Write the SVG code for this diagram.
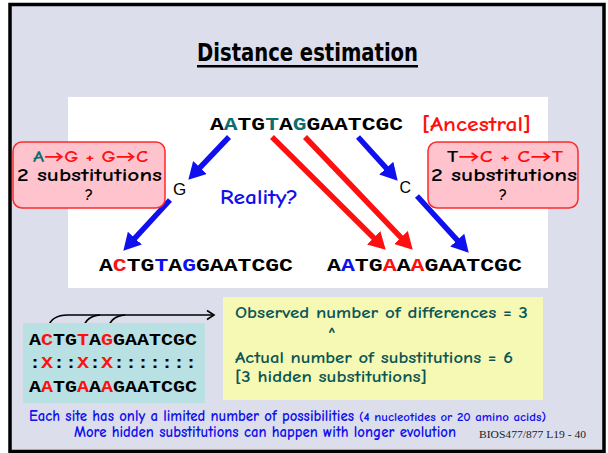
<svg xmlns="http://www.w3.org/2000/svg" width="608" height="453" viewBox="0 0 608 453">
<style>
.seq{font-family:"Liberation Mono","Courier New",monospace;font-weight:bold;fill:#000}
.comic{font-family:"Comic Sans MS","Comic Neue","Lato","Open Sans",sans-serif;font-weight:bold}
.r{fill:#ff1010}.b{fill:#1010ee}.t{fill:#0e6e6e}
.pink{fill:#ffc3cd;stroke:#ff2a2a;stroke-width:1.5}
.ya{fill:#0b5656}
.blu{fill:#1010ee}
.arB{stroke:#1010ee;stroke-width:5.5;fill:none}
.arR{stroke:#ff1010;stroke-width:5.5;fill:none}
</style>
<defs>
<marker id="hb" markerUnits="userSpaceOnUse" markerWidth="18" markerHeight="20" refX="6" refY="9.5" orient="auto" viewBox="0 0 18 20"><path d="M0,0 L17,9.5 L0,19 z" fill="#1010ee"/></marker>
<marker id="hr" markerUnits="userSpaceOnUse" markerWidth="18" markerHeight="20" refX="6" refY="9.5" orient="auto" viewBox="0 0 18 20"><path d="M0,0 L17,9.5 L0,19 z" fill="#ff1010"/></marker>
<marker id="hk" markerUnits="userSpaceOnUse" markerWidth="12" markerHeight="12" refX="9" refY="6" orient="auto" viewBox="0 0 12 12"><path d="M2,1.5 L9,6 L2,10.5" fill="none" stroke="#000" stroke-width="1.6"/></marker>
</defs>
<rect width="608" height="453" fill="#fff"/>
<rect x="10" y="4.5" width="594" height="447" fill="#dcdeec" stroke="#000" stroke-width="3.5"/>
<g id="title">
<text x="307.5" y="61" text-anchor="middle" font-family="Liberation Sans Narrow,DejaVu Sans Condensed,Arial Narrow,sans-serif" font-weight="bold" font-size="25" textLength="221" lengthAdjust="spacingAndGlyphs">Distance estimation</text>
<rect x="197" y="65" width="221" height="2.5" fill="#000"/>
</g>
<rect id="white-panel" x="68" y="97" width="480" height="191" fill="#fff"/>
<g id="connectors">
<line class="arB" x1="229" y1="137" x2="195.9" y2="171.8" marker-end="url(#hb)"/>
<line class="arB" x1="170" y1="200" x2="130.8" y2="242.6" marker-end="url(#hb)"/>
<line class="arR" x1="272" y1="137" x2="377.9" y2="242" marker-end="url(#hr)"/>
<line class="arR" x1="305" y1="137" x2="405.1" y2="241.8" marker-end="url(#hr)"/>
<line class="arB" x1="358" y1="137" x2="390.3" y2="172.6" marker-end="url(#hb)"/>
<line class="arB" x1="417" y1="196" x2="461.3" y2="244.6" marker-end="url(#hb)"/>
<path d="M48,328 C50,319 56,315 68,315 L214,315" fill="none" stroke="#000" stroke-width="1.6" marker-end="url(#hk)"/>
<path d="M83,328 C86,319 91,316 100,315" fill="none" stroke="#000" stroke-width="1.6"/>
<path d="M108,328 C111,319 116,316 125,315" fill="none" stroke="#000" stroke-width="1.6"/>
</g>
<g id="ancestral">
<text class="seq" x="210" y="130" font-size="19" textLength="193" lengthAdjust="spacingAndGlyphs">A<tspan class="t">A</tspan>TG<tspan class="t">T</tspan>A<tspan class="t">G</tspan>GAATCGC</text>
<text class="comic r" x="422" y="131" font-size="20" textLength="109" lengthAdjust="spacingAndGlyphs">[Ancestral]</text>
</g>
<g id="left-note">
<rect class="pink" x="13" y="142" width="152" height="66" rx="9"/>
<text class="comic" x="33" y="162" font-size="16" textLength="115" lengthAdjust="spacingAndGlyphs"><tspan class="t">A</tspan><tspan class="r">→G + G→C</tspan></text>
<text class="comic" x="17" y="181" font-size="17" textLength="145" lengthAdjust="spacingAndGlyphs">2 substitutions</text>
<text class="comic" x="89" y="200" font-size="16" text-anchor="middle">?</text>
</g>
<g id="right-note">
<rect class="pink" x="428" y="142" width="150" height="66" rx="9"/>
<text class="comic" x="447" y="162" font-size="16" textLength="116" lengthAdjust="spacingAndGlyphs">T<tspan class="r">→C + C→T</tspan></text>
<text class="comic" x="431" y="181" font-size="17" textLength="146" lengthAdjust="spacingAndGlyphs">2 substitutions</text>
<text class="comic" x="503" y="200" font-size="16" text-anchor="middle">?</text>
</g>
<g id="node-G"><text x="173" y="195" font-family="Liberation Sans,Arial,sans-serif" font-size="17">G</text></g>
<g id="node-C"><text x="399.5" y="193" font-family="Liberation Sans,Arial,sans-serif" font-size="16">C</text></g>
<g id="reality"><text class="comic blu" x="220" y="204" font-size="20" textLength="78" lengthAdjust="spacingAndGlyphs">Reality?</text></g>
<g id="seq-left">
<text class="seq" x="99" y="271" font-size="19" textLength="194" lengthAdjust="spacingAndGlyphs">A<tspan class="r">C</tspan>TG<tspan class="b">T</tspan>A<tspan class="b">G</tspan>GAATCGC</text>
</g>
<g id="seq-right">
<text class="seq" x="327" y="271" font-size="19" textLength="195" lengthAdjust="spacingAndGlyphs">A<tspan class="b">A</tspan>TG<tspan class="r">A</tspan>A<tspan class="r">A</tspan>GAATCGC</text>
</g>
<g id="alignment">
<rect x="23" y="323" width="182" height="80" fill="#b9e0e3"/>
<text class="seq" x="29" y="345" font-size="17" textLength="168" lengthAdjust="spacingAndGlyphs">A<tspan class="r">C</tspan>TG<tspan class="r">T</tspan>A<tspan class="r">G</tspan>GAATCGC</text>
<text class="seq" x="29" y="368" font-size="17" textLength="168" lengthAdjust="spacingAndGlyphs">:<tspan class="r">X</tspan>::<tspan class="r">X</tspan>:<tspan class="r">X</tspan>:::::::</text>
<text class="seq" x="29" y="392" font-size="17" textLength="168" lengthAdjust="spacingAndGlyphs">A<tspan class="r">A</tspan>TG<tspan class="r">A</tspan>A<tspan class="r">A</tspan>GAATCGC</text>
</g>
<g id="summary">
<rect x="223" y="297" width="320" height="103" fill="#f6f9b3"/>
<text class="comic ya" x="235" y="318" font-size="16" textLength="293" lengthAdjust="spacingAndGlyphs">Observed number of differences = 3</text>
<text class="comic ya" x="332" y="339" font-size="18" text-anchor="middle">^</text>
<text class="comic ya" x="235" y="363" font-size="16" textLength="278" lengthAdjust="spacingAndGlyphs">Actual number of substitutions = 6</text>
<text class="comic ya" x="235" y="382" font-size="16" textLength="192" lengthAdjust="spacingAndGlyphs">[3 hidden substitutions]</text>
</g>
<g id="footer">
<text class="comic blu" x="29" y="421" font-size="15" textLength="325" lengthAdjust="spacingAndGlyphs">Each site has only a limited number of possibilities</text>
<text class="comic blu" x="359" y="421" font-size="12.5" textLength="187" lengthAdjust="spacingAndGlyphs">(4 nucleotides or 20 amino acids)</text>
<text class="comic blu" x="74" y="437" font-size="15" textLength="382" lengthAdjust="spacingAndGlyphs">More hidden substitutions can happen with longer evolution</text>
<text x="479" y="438" font-family="Liberation Serif,Times New Roman,serif" font-size="10.5" fill="#222" textLength="107" lengthAdjust="spacingAndGlyphs">BIOS477/877 L19 - 40</text>
</g>
</svg>
